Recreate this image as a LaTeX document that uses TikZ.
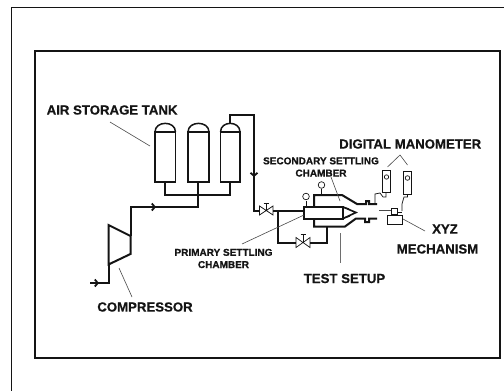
\documentclass[tikz,border=0pt]{standalone}
\usepackage{fontspec}
\setmainfont[BoldFeatures={FakeBold=0.6}]{Liberation Sans}
\definecolor{ink}{HTML}{141414}
\definecolor{lead}{HTML}{4A4A4A}
\usetikzlibrary{arrows.meta}
\tikzset{
  frame/.style={draw=ink,line width=1.8pt},
  pipe/.style={draw=ink,line width=2pt,line join=miter},
  thin part/.style={draw=ink,line width=0.7pt},
  leader/.style={draw=lead,line width=0.6pt},
  big/.style={font=\bfseries\fontsize{13.2}{15}\selectfont,text=ink,inner sep=0pt},
  small/.style={font=\bfseries\fontsize{10}{12.2}\selectfont,text=ink,inner sep=0pt,align=center},
  flow/.style={draw=ink,line width=1.8pt,-{Straight Barb[length=3pt,width=7pt]}},
}
\begin{document}
\begin{tikzpicture}[x=1pt,y=-1pt]
\useasboundingbox (0,0) rectangle (504,391);
\fill[white] (0,0) rectangle (504,391);
% frames
\draw[draw=ink,line width=1pt] (11.7,391) -- (11.7,7.5) -- (504,7.5);
\draw[frame] (35,51) rectangle (500,358);
% tanks
\foreach \n/\l/\r in {a/155/175.5,b/188/209,c/220.5/240}{
  \draw[pipe,line width=1.8pt] (\l,132) rectangle (\r,182);
  \draw[pipe,line width=1.5pt] (\l,132) .. controls (\l,120.5) and (\r,120.5) .. (\r,132);
  \coordinate (\n b) at ({(\l+\r)/2},182);
  \coordinate (\n t) at ({(\l+\r)/2},124);
}
\coordinate (j1) at (165,195);
\coordinate (j2) at (198,195);
\coordinate (j3) at (230,195);
\coordinate (j4) at (198,207);
\coordinate (c1) at (131,207);
\draw[pipe] (165,182) -- (j1) -- (j3) -- (230,182);
\draw[pipe] (198,182) -- (j4) -- (c1) -- (131,236);
% compressor
\draw[pipe] (108.5,225) -- (130.5,236) -- (130.5,254) -- (108.5,264.5) -- cycle;
\draw[pipe] (108.5,264.5) -- (108.5,283) -- (90,283);
\draw[flow] (90,283) -- (99,283);
\draw[flow] (140,207) -- (156,207);
% supply
\coordinate (v1) at (266,210.5);
\draw[pipe] (230,124) -- (230,115) -- (254,115) -- (254,210.5) -- (259,210.5);
\draw[flow] (254,160) -- (254,177);
% main valve
\draw[thin part] (259.5,206) -- (273,215) -- (273,206) -- (259.5,215) -- cycle;
\draw[thin part] (266.2,210.5) -- (266.2,203.5) (263.7,203.5) -- (268.7,203.5);
\draw[pipe] (273,210.5) -- (304,210.5);
% bypass
\draw[pipe] (278,210.5) -- (278,242.5) -- (296,242.5);
\draw[thin part] (296,237.5) -- (310,247.5) -- (310,237.5) -- (296,247.5) -- cycle;
\draw[thin part] (303,242.5) -- (303,234.5) (300.5,234.5) -- (305.5,234.5);
\draw[pipe] (310,242.5) -- (327.3,242.5) -- (327.3,226);
% primary chamber
\draw[pipe] (304,207) rectangle (343,218.5);
\draw[pipe,line width=1.6pt] (343,207) -- (356,212.5) -- (343,218.5);
\draw[pipe,line width=1.2pt] (349,209) -- (343,207) (350,216) -- (343,218.5);
% secondary chamber
\draw[pipe] (314,207) -- (314,195) -- (342,195) -- (357,204) -- (366,204) -- (366,201) -- (369,201) -- (369,204) -- (377,204);
\draw[pipe] (314,218.5) -- (314,226.5) -- (345,226.5) -- (356,218.5) -- (365,218.5) -- (365,222) -- (369,222) -- (369,218.5) -- (377,218.5);
% gauges
\draw[thin part] (306,207) -- (306,201);
\draw[thin part,fill=white] (306,196.5) circle (3.3);
\draw[thin part] (321.5,195) -- (321.5,189);
\draw[thin part,fill=white] (321.5,185) circle (3.3);
% manometers
\draw[thin part,line width=0.9pt] (382.5,170) rectangle (390.5,192);
\draw[thin part,line width=0.9pt] (403.5,171.5) rectangle (411.5,194);
\draw[thin part] (386.5,177) circle (2.2);
\draw[thin part] (407.5,178) circle (2.3);
\draw[thin part] (375,203) -- (375,194) -- (380,193) -- (383,197) -- (386,197) -- (386,192);
\draw[thin part] (402,211) -- (402,204) -- (404,197) -- (407.5,197) -- (407.5,194);
% probe and traverse
\draw[draw=lead,line width=1.8pt] (379,210.5) -- (391,210.5);
\draw[thin part] (391,208) rectangle (397,214);
\draw[thin part] (397,212) -- (402,212);
\draw[thin part] (387.5,215) rectangle (402.5,224);
% leaders
\draw[leader] (110,122) -- (150,146);
\draw[leader] (119,268) -- (132,297);
\draw[leader] (242,244) -- (304,215);
\draw[leader] (331,177) -- (340,201);
\draw[leader] (387.5,167) -- (400,155) -- (407.5,165);
\draw[leader] (403,219) -- (425,231);
\draw[leader,line width=1pt,draw=lead!80] (340,233) -- (340,263);
% labels
\node[big,anchor=west] (ast) at (46.5,110) {AIR STORAGE TANK};
\node[big,anchor=west] (dm) at (339,144) {DIGITAL MANOMETER};
\node[big,anchor=center] (comp) at (145,307) {COMPRESSOR};
\node[big,anchor=center] (ts) at (344.5,278.5) {TEST SETUP};
\node[big,anchor=center] (xyz) at (445,229) {XYZ};
\node[big,anchor=center] (mech) at (437.5,249) {MECHANISM};
\node[small] (ssc) at (321,167) {SECONDARY SETTLING\\CHAMBER};
\node[small] (psc) at (223.5,258.5) {PRIMARY SETTLING\\CHAMBER};
\end{tikzpicture}
\end{document}
